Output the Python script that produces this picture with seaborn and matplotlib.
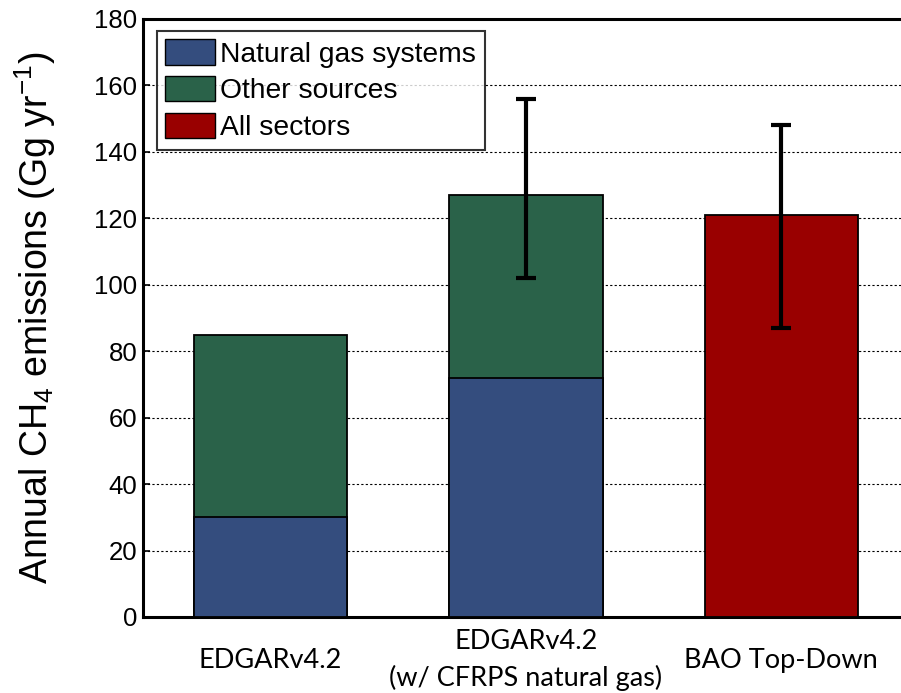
import numpy as np
import pandas as pd
import matplotlib
matplotlib.use("Agg")
import matplotlib.pyplot as plt
import seaborn as sns
from matplotlib.patches import Patch

# ---- data ----
categories = ["EDGARv4.2", "EDGARv4.2\n(w/ CFRPS natural gas)", "BAO Top-Down"]
natural_gas = [30, 72, np.nan]
other_sources = [55, 55, np.nan]
all_sectors = [np.nan, np.nan, 121]
err_low = [np.nan, 102, 87]
err_high = [np.nan, 156, 148]
yticks = [0, 20, 40, 60, 80, 100, 120, 140, 160, 180]
legend_labels = ["Natural gas systems", "Other sources", "All sectors"]

c_blue = "#344D7E"
c_green = "#2A6249"
c_red = "#990000"

sns.set_theme(style="white")
plt.rcParams["font.family"] = ["Liberation Sans", "DejaVu Sans"]
plt.rcParams["text.color"] = "black"
plt.rcParams["axes.labelcolor"] = "black"
plt.rcParams["mathtext.default"] = "regular"

fig = plt.figure(figsize=(9.01, 6.93), dpi=100)
ax = fig.add_axes([143 / 901, 76 / 693, 766 / 901, 598 / 693])

ng = np.array(natural_gas, dtype=float)
oth = np.array(other_sources, dtype=float)
allsec = np.array(all_sectors, dtype=float)
stack_total = ng + oth

df = pd.DataFrame({"cat": categories, "total": stack_total, "ng": ng, "all": allsec})

bar_kw = dict(order=categories, width=0.6, edgecolor="black", linewidth=1.3,
              errorbar=None, ax=ax, zorder=3)
sns.barplot(data=df, x="cat", y="total", color=c_green, saturation=1, **bar_kw)
sns.barplot(data=df, x="cat", y="ng", color=c_blue, saturation=1, **bar_kw)
sns.barplot(data=df, x="cat", y="all", color=c_red, saturation=1, **bar_kw)

# error bars
tops = np.where(np.isnan(stack_total), allsec, stack_total)
lo = np.array(err_low, dtype=float)
hi = np.array(err_high, dtype=float)
pos = np.arange(len(categories))
m = ~np.isnan(lo)
ax.errorbar(pos[m], tops[m], yerr=[tops[m] - lo[m], hi[m] - tops[m]], fmt="none",
            ecolor="black", elinewidth=3, capsize=7.5, capthick=3, zorder=4)

ax.set_xlim(-0.5, 2.5)
ax.set_ylim(0, 180)
ax.set_yticks(yticks)
ax.set_yticklabels([str(t) for t in yticks], fontsize=18.5)
ax.tick_params(axis="y", direction="in", length=5, width=1.2, pad=4, colors="black",
               left=True)
ax.tick_params(axis="x", length=0, pad=31, colors="black")
for lab in ax.get_xticklabels():
    lab.set_fontfamily(["Lato", "DejaVu Sans"])
    lab.set_fontsize(19.5)
    lab.set_verticalalignment("center")
    lab.set_linespacing(1.55)
    lab.set_color("black")

ax.set_xlabel("")
ax.set_ylabel("Annual CH$_{4}$ emissions (Gg yr$^{-1}$)", fontsize=27, color="black",
              labelpad=26)

ax.yaxis.grid(True, linestyle=(0, (2, 2)), color="black", linewidth=0.8)
ax.xaxis.grid(False)
ax.set_axisbelow(True)

for s in ["left", "top", "bottom", "right"]:
    ax.spines[s].set_visible(True)
    ax.spines[s].set_color("black")
    ax.spines[s].set_linewidth(2.2)

handles = [Patch(facecolor=c, edgecolor="black", linewidth=1.0)
           for c in (c_blue, c_green, c_red)]
leg = ax.legend(handles, legend_labels, loc="upper left", bbox_to_anchor=(0.018, 0.98),
                borderaxespad=0, fontsize=20.3, frameon=True, fancybox=False,
                handlelength=1.75, handleheight=1.0, labelspacing=0.3,
                handletextpad=0.2, borderpad=0.3)
leg.get_frame().set_edgecolor("black")
leg.get_frame().set_linewidth(1.5)
for t in leg.get_texts():
    t.set_color("black")
leg.set_zorder(5)

fig.savefig("out.png", dpi=100)
